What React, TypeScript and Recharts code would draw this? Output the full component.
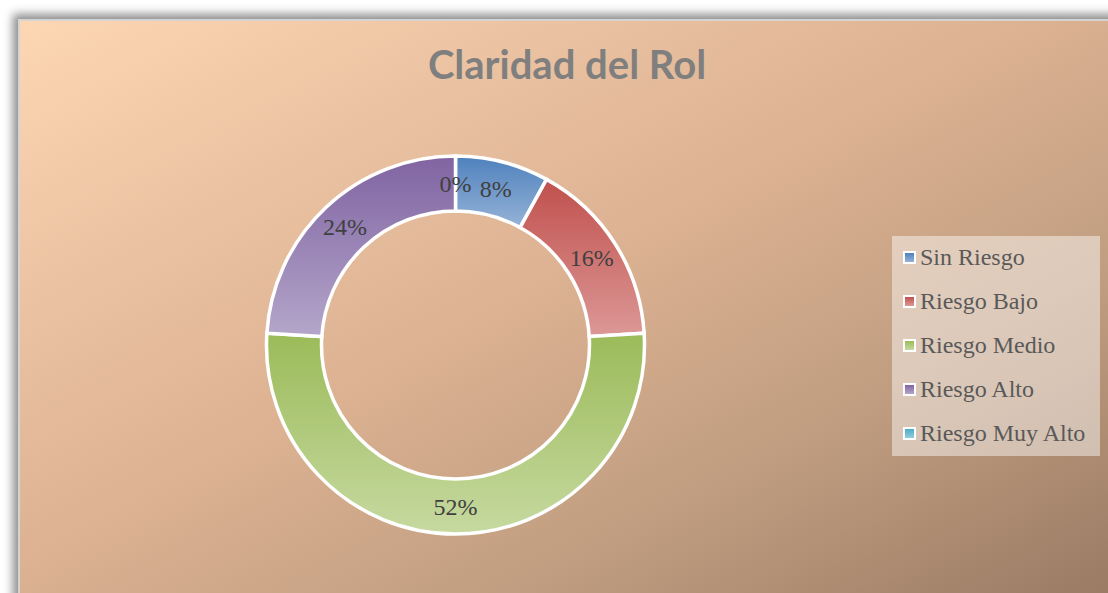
import React from "react";
import { PieChart, Pie, Cell, Legend } from "recharts";

const categories = ["Sin Riesgo", "Riesgo Bajo", "Riesgo Medio", "Riesgo Alto", "Riesgo Muy Alto"];
const values = [8, 16, 52, 24, 0];
const topColors = ["#4f81bd", "#c0504d", "#9bbb59", "#8064a2", "#4bacc6"];
const bottomColors = ["#95b3d7", "#dc9896", "#c6d9a0", "#b4a6ca", "#92cddc"];

const data = categories.map((name, i) => ({ name, value: values[i] }));
const total = values.reduce((s, v) => s + v, 0);

const RADIAN = Math.PI / 180;

const renderLabel = (props: any) => {
  const { cx, cy, midAngle, innerRadius, outerRadius, value } = props;
  const r = (innerRadius + outerRadius) / 2;
  const x = cx + r * Math.cos(-midAngle * RADIAN);
  const y = cy + r * Math.sin(-midAngle * RADIAN);
  return (
    <text
      x={x}
      y={y}
      textAnchor="middle"
      dominantBaseline="central"
      fill="#404040"
      fontSize={24}
      fontFamily="'Liberation Serif', serif"
    >
      {`${Math.round((value / total) * 100)}%`}
    </text>
  );
};

const LegendBox = () => (
  <div
    style={{
      width: 208,
      height: 220,
      background: "rgba(255,255,255,0.45)",
      boxSizing: "border-box",
      paddingTop: 0,
      paddingLeft: 11,
    }}
  >
    {categories.map((name, i) => (
      <div key={name} style={{ display: "flex", alignItems: "center", height: 43.8 }}>
        <div
          style={{
            width: 9,
            height: 9,
            border: "2px solid #fff",
            background: `linear-gradient(${topColors[i]}, ${bottomColors[i]})`,
            marginRight: 4,
          }}
        />
        <span
          style={{
            fontFamily: "'Liberation Serif', serif",
            fontSize: 24,
            color: "#595959",
            whiteSpace: "nowrap",
          }}
        >
          {name}
        </span>
      </div>
    ))}
  </div>
);

export default function App() {
  return (
    <div style={{ position: "absolute", left: 0, top: 0, width: 1108, height: 593, overflow: "hidden", background: "#fff" }}>
      <div
        style={{
          position: "absolute",
          left: 18,
          top: 19,
          width: 1120,
          height: 600,
          border: "2px solid #d4d4d4",
          boxShadow: "-4px -4px 9px 1px rgba(0,0,0,0.45)",
          background: "linear-gradient(to bottom right, #fdd6b4 0%, #dcb292 45%, #c09d80 70%, #957660 100%)",
        }}
      />
      <div
        style={{
          position: "absolute",
          left: 0,
          top: 40,
          width: 1134,
          textAlign: "center",
          fontFamily: "Lato, 'Open Sans', sans-serif",
          fontWeight: 700,
          fontSize: 40,
          color: "#7f7f7f",
        }}
      >
        Claridad del Rol
      </div>
      <div style={{ position: "absolute", left: 0, top: 0 }}>
        <PieChart width={1108} height={593} margin={{ top: 0, right: 0, bottom: 0, left: 0 }}>
          <defs>
            {topColors.map((c, i) => (
              <linearGradient key={i} id={`grad-${i}`} x1="0" y1="0" x2="0" y2="1">
                <stop offset="0%" stopColor={c} />
                <stop offset="100%" stopColor={bottomColors[i]} />
              </linearGradient>
            ))}
          </defs>
          <Pie
            data={data}
            dataKey="value"
            nameKey="name"
            cx={455.5}
            cy={345}
            innerRadius={134}
            outerRadius={189}
            startAngle={90}
            endAngle={-270}
            stroke="#ffffff"
            strokeWidth={3.5}
            label={renderLabel}
            labelLine={false}
            isAnimationActive={false}
          >
            {data.map((entry, i) => (
              <Cell key={`cell-${i}`} fill={`url(#grad-${i})`} />
            ))}
          </Pie>
          <Legend
            content={() => <LegendBox />}
            wrapperStyle={{ position: "absolute", left: 892, top: 236, width: 208, height: 220 }}
          />
        </PieChart>
      </div>
    </div>
  );
}
